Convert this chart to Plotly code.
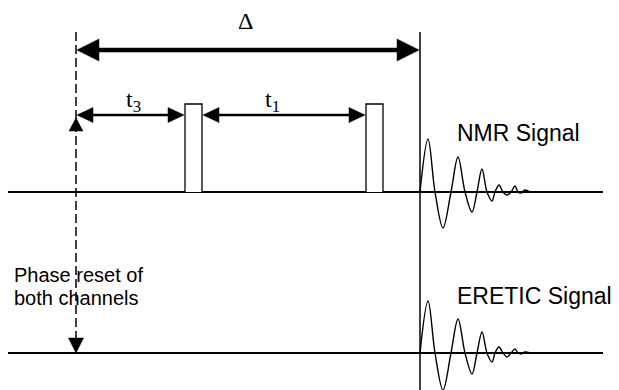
import plotly.graph_objects as go

W, H = 619, 390
PAGE_MARGIN = 8  # browser body margin around the figure

# ---- diagram values (pixel-like diagram units) ----
channel_names = ["NMR Signal", "ERETIC Signal"]
channel_levels = [192, 353]
baseline_span = [8, 603]

phase_reset_x = 76
acquisition_x = 420
timing_top = 32

pulse_starts = [185, 366]
pulse_width = 17
pulse_height = 88

delay_labels = ["Δ", "t<sub>3</sub>", "t<sub>1</sub>"]
delay_starts = [76, 76, 202]
delay_ends = [420, 185, 366]
delay_levels = [50, 115, 115]

phase_text = ["Phase reset of", "both channels"]

fid_offsets = [0, 8, 15, 23, 31, 38, 45, 52, 57, 62, 67, 72, 75, 79, 83, 87, 91, 95, 98, 101, 105, 110]
nmr_fid = [0, 53, 0, -36, 0, 35, 0, -20, 0, 23, 0, -9, 0, 7, 0, -3, 0, 6, 0, -1, 2, 0]
eretic_fid = [0, 52, 0, -37, 0, 34, 0, -21, 0, 21, 0, -9, 0, 6, 0, -4, 0, 4, 0, -1, 1, 0]

fig = go.Figure()
BLACK = "black"


def line(xs, ys, width=1.5, dash=None, shape="linear"):
    fig.add_trace(go.Scatter(x=xs, y=ys, mode="lines",
                             line=dict(color=BLACK, width=width, dash=dash, shape=shape),
                             hoverinfo="skip", showlegend=False))


def head(tx, ty, direction, length, half):
    if direction == "left":
        xs = [tx, tx + length, tx + length, tx]
        ys = [ty, ty - half, ty + half, ty]
    elif direction == "right":
        xs = [tx, tx - length, tx - length, tx]
        ys = [ty, ty - half, ty + half, ty]
    elif direction == "up":
        xs = [tx, tx - half, tx + half, tx]
        ys = [ty, ty + length, ty + length, ty]
    else:
        xs = [tx, tx - half, tx + half, tx]
        ys = [ty, ty - length, ty - length, ty]
    fig.add_trace(go.Scatter(x=xs, y=ys, mode="lines", fill="toself",
                             fillcolor=BLACK, line=dict(color=BLACK, width=0.5),
                             hoverinfo="skip", showlegend=False))


# baselines
for lvl in channel_levels:
    line(baseline_span, [lvl, lvl], width=1.8)

# acquisition start vertical line
line([acquisition_x, acquisition_x], [timing_top, H], width=1.5)

# phase reset dashed line with arrows
line([phase_reset_x, phase_reset_x], [timing_top, channel_levels[1] - 10], width=1.5, dash="9px,4px")
head(phase_reset_x, delay_levels[1] + 3, "up", 13, 7)
head(phase_reset_x, channel_levels[1], "down", 15, 7.5)

# pulses
for ps in pulse_starts:
    base = channel_levels[0]
    fig.add_trace(go.Scatter(x=[ps, ps, ps + pulse_width, ps + pulse_width],
                             y=[base, base - pulse_height, base - pulse_height, base],
                             mode="lines", fill="toself", fillcolor="white",
                             line=dict(color=BLACK, width=1.3),
                             hoverinfo="skip", showlegend=False))

# delay arrows
for i, (lab, xs, xe, yl) in enumerate(zip(delay_labels, delay_starts, delay_ends, delay_levels)):
    big = i == 0
    L, hh, lw = (22, 11, 4.5) if big else (16, 7.5, 2.5)
    line([xs + L - 2, xe - L + 2], [yl, yl], width=lw)
    head(xs + 1, yl, "left", L, hh)
    head(xe - 1, yl, "right", L, hh)

# FIDs
for lvl, amps in zip(channel_levels, [nmr_fid, eretic_fid]):
    line([acquisition_x + o for o in fid_offsets], [lvl - a for a in amps],
         width=1.4, shape="spline")

annotations = []
serif = dict(family="Liberation Serif, Times New Roman, serif", size=24, color=BLACK)
sans = dict(family="Liberation Sans, Arial, sans-serif", size=20, color=BLACK)
label_pos = [(245, 21), (133, 101), (272, 101)]
for lab, (x, y) in zip(delay_labels, label_pos):
    annotations.append(dict(x=x, y=y, text=lab, showarrow=False, xref="x", yref="y",
                            xanchor="center", yanchor="middle", font=serif))
for txt, y in zip(phase_text, [275, 298]):
    annotations.append(dict(x=12, y=y, text=txt, showarrow=False, xref="x", yref="y",
                            xanchor="left", yanchor="middle", font=sans))
for name, y in zip(channel_names, [133, 296]):
    annotations.append(dict(x=455, y=y, text=name, showarrow=False, xref="x", yref="y",
                            xanchor="left", yanchor="middle",
                            font=dict(family="Liberation Sans, Arial, sans-serif", size=23, color=BLACK)))

fig.update_layout(
    width=W - PAGE_MARGIN, height=H - PAGE_MARGIN, margin=dict(l=0, r=0, t=0, b=0),
    paper_bgcolor="white", plot_bgcolor="white",
    xaxis=dict(range=[PAGE_MARGIN, W], visible=False, fixedrange=True),
    yaxis=dict(range=[H, PAGE_MARGIN], visible=False, fixedrange=True),
    annotations=annotations, showlegend=False,
)

fig.write_html("out.html", config={"displayModeBar": False})
